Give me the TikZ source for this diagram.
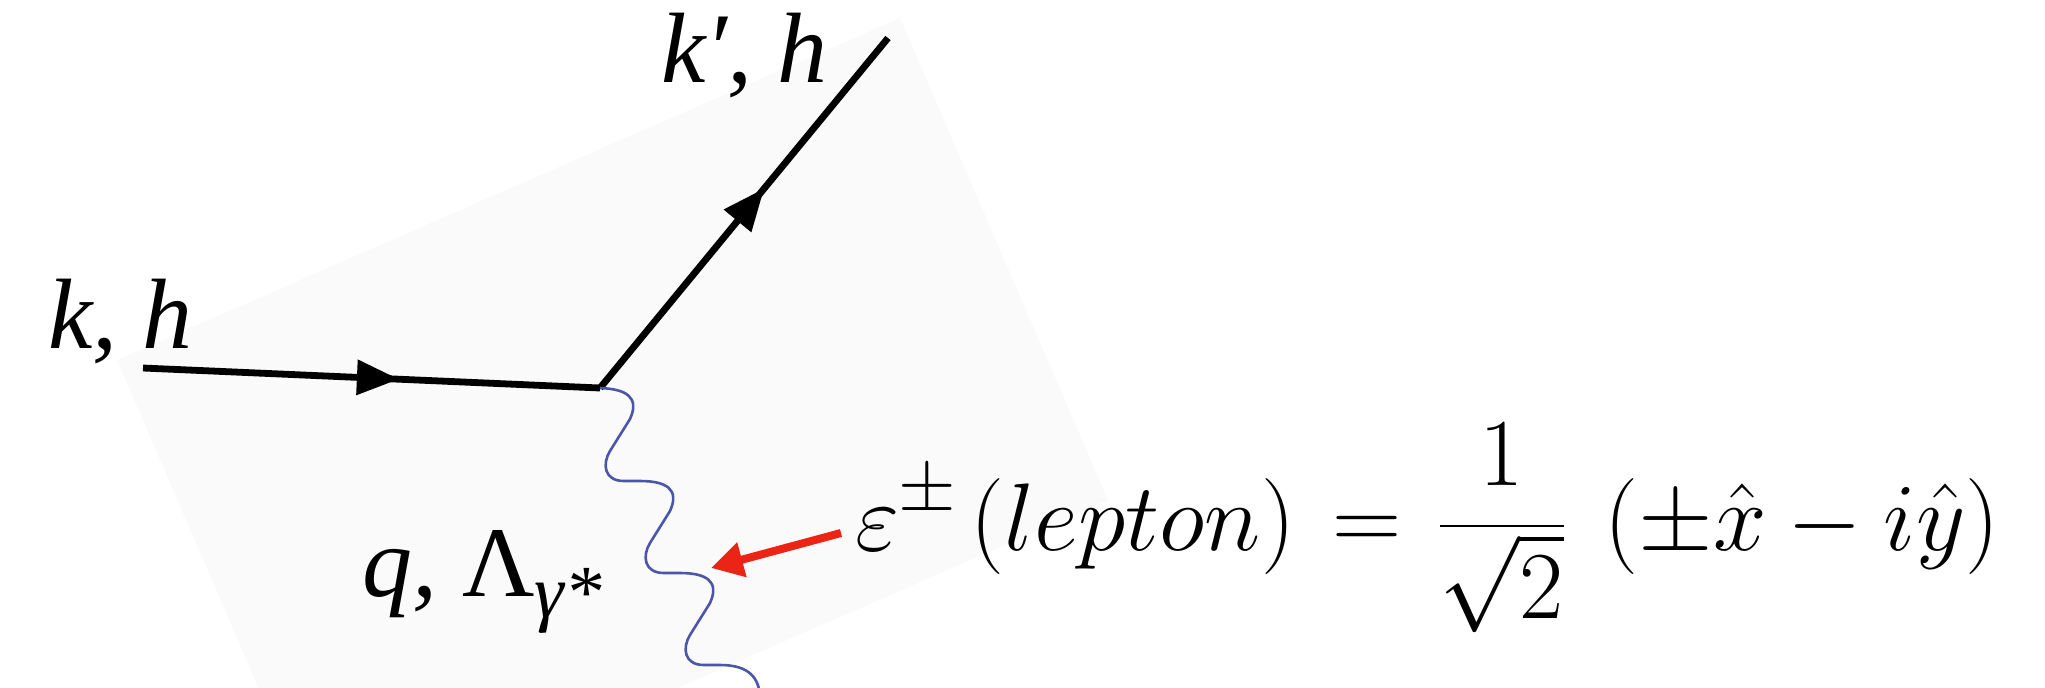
\RequirePackage{fix-cm}
\documentclass[tikz,border=0pt]{standalone}
\usepackage[no-math]{fontspec}
\usepackage{amsmath}
\DeclareMathSizes{48}{48}{37}{26}
\newfontfamily\labelfont{Liberation Serif}
\usetikzlibrary{arrows.meta,decorations.markings}
\definecolor{bgpaper}{RGB}{250,250,250}
\definecolor{arrowred}{RGB}{236,36,22}
\definecolor{photonblue}{RGB}{75,85,170}
\begin{document}
\begin{tikzpicture}[x=0.5pt,y=-0.5pt,
  fermion/.style={line width=3.4pt},
  midarrow/.style={postaction={decorate},decoration={markings,
      mark=at position #1 with {\arrow{Triangle[length=21pt,width=17pt]}}}},
  photon/.style={photonblue,line width=1.3pt},
  lbl/.style={inner sep=0pt,outer sep=0pt,anchor=base west,
      font=\labelfont\itshape\fontsize{50pt}{60pt}\selectfont},
  eqn/.style={inner sep=0pt,outer sep=0pt,anchor=base west}]
\useasboundingbox (0,0) rectangle (2045,687);
\begin{scope}
  \clip (0,0) rectangle (2045,687);
  \fill[bgpaper] (117,360) -- (900,18) -- (1108,500) -- (325,842) -- cycle;
\end{scope}
\coordinate (kin) at (143,368);
\coordinate (vtx) at (600,388);
\coordinate (kout) at (888,38);
\coordinate (wend) at (760,695);
\draw[fermion,midarrow=0.56] (kin) -- (vtx);
\draw[fermion,midarrow=0.57] (vtx) -- (kout);
\draw[photon] (vtx)
  .. controls (626,389) and (640,397) .. (630,419) -- (610,451)
  .. controls (602,464) and (604,481) .. (624,481) -- (640,481)
  .. controls (666,481) and (680,489) .. (670,511) -- (650,543)
  .. controls (642,556) and (644,573) .. (664,573) -- (680,573)
  .. controls (706,573) and (720,581) .. (710,603) -- (690,635)
  .. controls (682,648) and (684,665) .. (704,665) -- (720,665)
  .. controls (746,665) and (758,675) .. (wend);
\node[lbl] (kinlbl) at (48,348) {k, h};
\node[lbl] (koutlbl) at (661,82) {k′, h};
\node[lbl] (qlbl) at (362,596) {q, {\upshape Λ}\raisebox{-10.5pt}{\fontsize{37.5pt}{40pt}\selectfont γ*}};
\node[eqn] (eq) at (855,550) {\fontsize{48pt}{58pt}\selectfont
  \nulldelimiterspace=5.76pt\scriptspace=2.4pt
  $\displaystyle \varepsilon^{\pm}\mskip1.8mu(lepton)\mskip2mu = \frac{1}{\sqrt{2}}\mskip5.5mu(\pm\hat{x} - i\hat{y})$};
\coordinate (epstail) at (841,533);
\coordinate (epstip) at (711,568);
\draw[arrowred,line width=4pt,-{Triangle[length=16pt,width=17pt]}] (epstail) -- (epstip);
\end{tikzpicture}
\end{document}
